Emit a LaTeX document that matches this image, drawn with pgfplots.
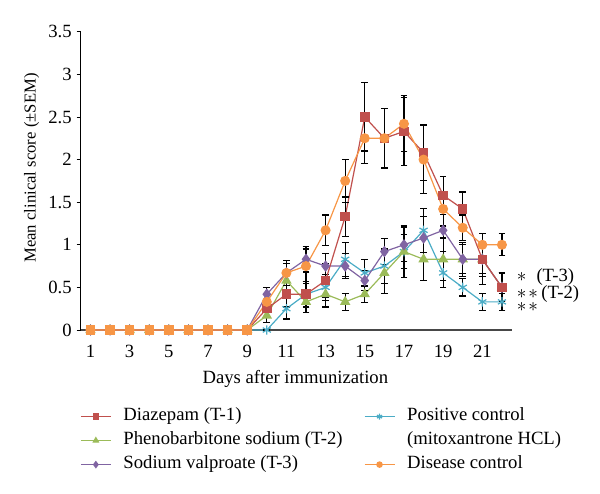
\documentclass[border=0pt]{standalone}
\usepackage{pgfplots}
\pgfplotsset{compat=1.18}
\usepackage{pgfplotstable}
\usepackage{fontspec}
\setmainfont{Liberation Serif}
\definecolor{cRed}{HTML}{C0504D}
\definecolor{cGreen}{HTML}{9BBB59}
\definecolor{cPurple}{HTML}{8064A2}
\definecolor{cCyan}{HTML}{4BACC6}
\definecolor{cOrange}{HTML}{F79646}
\pgfplotstableread{
day d de p pe v ve c ce o oe
1 0 0 0 0 0 0 0 0 0 0
2 0 0 0 0 0 0 0 0 0 0
3 0 0 0 0 0 0 0 0 0 0
4 0 0 0 0 0 0 0 0 0 0
5 0 0 0 0 0 0 0 0 0 0
6 0 0 0 0 0 0 0 0 0 0
7 0 0 0 0 0 0 0 0 0 0
8 0 0 0 0 0 0 0 0 0 0
9 0 0 0 0 0 0 0 0 0 0
10 0.25 0.10 0.17 0.08 0.42 0.08 0.00 0.00 0.33 0.10
11 0.42 0.15 0.58 0.20 0.67 0.15 0.25 0.12 0.67 0.15
12 0.42 0.15 0.33 0.12 0.83 0.15 0.42 0.15 0.75 0.20
13 0.58 0.20 0.42 0.15 0.75 0.15 0.50 0.15 1.17 0.18
14 1.33 0.23 0.33 0.10 0.75 0.15 0.83 0.20 1.75 0.25
15 2.50 0.40 0.42 0.10 0.58 0.12 0.67 0.16 2.25 0.30
16 2.25 0.35 0.67 0.24 0.92 0.15 0.75 0.20 2.25 0.35
17 2.33 0.40 0.92 0.20 1.00 0.20 0.92 0.30 2.42 0.33
18 2.08 0.33 0.83 0.25 1.08 0.25 1.17 0.26 2.00 0.40
19 1.58 0.22 0.83 0.25 1.17 0.25 0.67 0.17 1.42 0.20
20 1.42 0.20 0.83 0.20 0.83 0.17 0.50 0.10 1.20 0.15
21 0.83 0.30 0.83 0.17 0.83 0.20 0.33 0.10 1.00 0.13
22 0.50 0.17 0.50 0.17 0.50 0.17 0.33 0.10 1.00 0.13
}\data
\pgfplotstableread{
day o
1 0
2 0
3 0
4 0
5 0
6 0
7 0
8 0
9 0
}\zeros
\begin{document}
\begin{tikzpicture}
\useasboundingbox (-60.5pt,-122.25pt) rectangle (389.5pt,247.5pt);
\begin{axis}[
  scale only axis, width=323.3pt, height=223.7pt,
  xmin=0.5, xmax=22.5, ymin=0, ymax=3.5,
  clip=false,
  axis x line=bottom, axis y line=left,
  x axis line style={-, draw=black!72, line width=1.6pt},
  y axis line style={-, draw=black, line width=0.6pt},
  xtick={1,3,...,21}, ytick={0,0.5,...,3.5},
  xtick style={draw=none},
  ytick style={draw=black, line width=0.6pt},
  tick align=outside, major tick length=3pt,
  /pgf/number format/assume math mode=true,
  tick label style={font=\fontsize{14}{16}\selectfont},
  xticklabel style={anchor=center, yshift=-12.75pt},
  yticklabel style={anchor=east, inner sep=0pt, xshift=-3.5pt},
  xlabel={Days after immunization},
  xlabel style={font=\fontsize{14}{16}\selectfont, at={(axis description cs:0.498,0)}, anchor=center, yshift=-36.75pt},
  ylabel={Mean clinical score (\textpm SEM)},
  ylabel style={font=\fontsize{12.5}{15}\selectfont, at={(axis description cs:0,0.543)}, anchor=center, rotate=0, yshift=36.75pt},
  legend columns=2,
  legend cell align=left,
  legend style={draw=none, fill=none, at={(axis description cs:0,0)}, anchor=north west, yshift=-56pt, xshift=-0.5pt,
    font=\fontsize{14}{16}\selectfont, inner sep=0pt, row sep=0.5pt,
    nodes={text height=10pt, text depth=3.5pt, inner ysep=2pt, inner xsep=0pt},
    /tikz/every even column/.append style={column sep=16pt},
    /tikz/every odd column/.append style={column sep=9pt}},
  legend image code/.code={\draw[mark repeat=2,mark phase=2,#1] plot coordinates {(0pt,0pt) (11.25pt,0pt) (22.5pt,0pt)};},
  every axis plot/.append style={line width=0.9pt},
  error bars/error bar style={black, line width=0.9pt, solid},
  error bars/error mark options={black, rotate=90, mark size=2.5pt, line width=0.9pt},
]
\addplot[cCyan, mark=asterisk, mark size=3.5pt, mark options={line width=0.9pt}, forget plot,
  error bars/.cd, y dir=both, y explicit] table[x=day, y=c, y error=ce] {\data};
\addplot[cGreen, mark=triangle*, mark size=3.6pt, forget plot,
  error bars/.cd, y dir=both, y explicit] table[x=day, y=p, y error=pe] {\data};
\addplot[cPurple, mark=diamond*, mark size=3.6pt, forget plot,
  error bars/.cd, y dir=both, y explicit] table[x=day, y=v, y error=ve] {\data};
\addplot[cRed, mark=square*, mark size=3.1pt, forget plot,
  error bars/.cd, y dir=both, y explicit] table[x=day, y=d, y error=de] {\data};
\addplot[cOrange, mark=*, mark size=3.3pt, forget plot,
  error bars/.cd, y dir=both, y explicit] table[x=day, y=o, y error=oe] {\data};
\addplot[cOrange, only marks, mark=square*, mark size=3.1pt, forget plot] table[x=day, y=o] {\zeros};
\addlegendimage{cRed, line width=0.9pt, mark=square*, mark size=2pt}
\addlegendentry{Diazepam (T-1)}
\addlegendimage{cCyan, line width=0.9pt, mark=asterisk, mark size=2.2pt}
\addlegendentry{Positive control}
\addlegendimage{cGreen, line width=0.9pt, mark=triangle*, mark size=2.2pt}
\addlegendentry{Phenobarbitone sodium (T-2)}
\addlegendimage{empty legend}
\addlegendentry{(mitoxantrone HCL)}
\addlegendimage{cPurple, line width=0.9pt, mark=diamond*, mark size=2.2pt}
\addlegendentry{Sodium valproate (T-3)}
\addlegendimage{cOrange, line width=0.9pt, mark=*, mark size=2pt}
\addlegendentry{Disease control}
\node[anchor=north west, inner sep=0pt, align=left, font=\fontsize{14}{16}\selectfont] at (axis cs:22.75,0.72)
  {\makebox[14.7pt][l]{$\ast$}(T-3)\\[-3.5pt]\makebox[18.4pt][l]{$\ast\hspace{1.5pt}\ast$}(T-2)\\[-6.5pt]$\ast\hspace{1.5pt}\ast$};
\end{axis}
\end{tikzpicture}
\end{document}
